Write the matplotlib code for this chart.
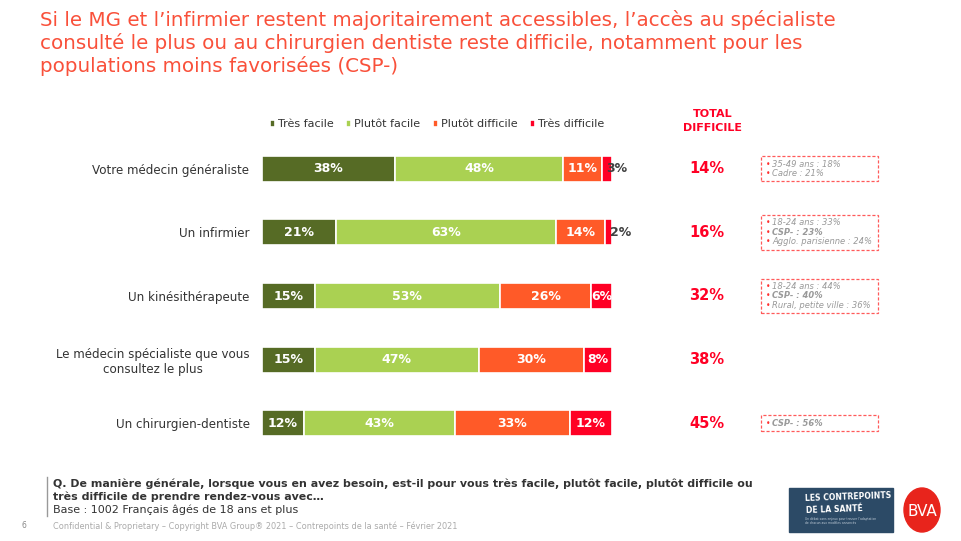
import matplotlib
matplotlib.use("Agg")
import matplotlib.pyplot as plt
from matplotlib.patches import Rectangle, Ellipse
import numpy as np

plt.rcParams['font.family'] = ['DejaVu Sans']

# données
categories = ["Votre médecin généraliste", "Un infirmier", "Un kinésithérapeute",
              "Le médecin spécialiste que vous\nconsultez le plus", "Un chirurgien-dentiste"]
tres_facile = [38, 21, 15, 15, 12]
plutot_facile = [48, 63, 53, 47, 43]
plutot_difficile = [11, 14, 26, 30, 33]
tres_difficile = [3, 2, 6, 8, 12]
series_names = ["Très facile", "Plutôt facile", "Plutôt difficile", "Très difficile"]
colors = ["#566B25", "#AAD152", "#FF5A28", "#FF0025"]

# détails par ligne (texte, gras)
details = [
    [("35-49 ans : 18%", False), ("Cadre : 21%", False)],
    [("18-24 ans : 33%", False), ("CSP- : 23%", True), ("Agglo. parisienne : 24%", False)],
    [("18-24 ans : 44%", False), ("CSP- : 40%", True), ("Rural, petite ville : 36%", False)],
    [],
    [("CSP- : 56%", True)],
]

title = ("Si le MG et l’infirmier restent majoritairement accessibles, l’accès au spécialiste\n"
         "consulté le plus ou au chirurgien dentiste reste difficile, notamment pour les\n"
         "populations moins favorisées (CSP-)")

W, H = 961, 541
fig = plt.figure(figsize=(9.61, 5.41), dpi=100)

def fx(px):
    return px / W

def fy(py):
    return 1 - py / H

fig.text(fx(40), fy(10), title, color="#F9503A", fontsize=14.3, va="top", ha="left",
         linespacing=1.2)

ax = fig.add_axes([fx(262), fy(455), fx(612) - fx(262), (455 - 137) / H])
data = [tres_facile, plutot_facile, plutot_difficile, tres_difficile]
y = np.arange(len(categories))
left = np.zeros(len(categories))
for vals, name, col in zip(data, series_names, colors):
    vals = np.array(vals)
    ax.barh(y, vals, left=left, height=0.41, color=col, edgecolor="white",
            linewidth=1.2, label=name)
    for yi, v, l in zip(y, vals, left):
        if v < 5:
            ax.text(l + 1.3, yi, f"{v}%", ha="left", va="center", color="#404040",
                    fontsize=9, fontweight="bold", clip_on=False)
        else:
            ax.text(l + v / 2, yi, f"{v}%", ha="center", va="center", color="white",
                    fontsize=9, fontweight="bold", clip_on=False)
    left = left + vals

ax.set_xlim(0, 100)
ax.set_ylim(4.5, -0.5)
ax.set_yticks(y)
ax.set_yticklabels(categories, fontsize=8.6, color="#333333", ha="right",
                   multialignment="center")
ax.tick_params(axis="y", length=0, pad=9)
ax.set_xticks([])
for s in ax.spines.values():
    s.set_visible(False)

leg = ax.legend(loc="lower center", bbox_to_anchor=(0.5, 1.01), ncol=4, frameon=False,
                fontsize=8, handlelength=0.5, handleheight=0.5, handletextpad=0.25,
                columnspacing=1.1, borderaxespad=0)
for t in leg.get_texts():
    t.set_color("#333333")

# colonne total difficile
total_difficile = [a + b for a, b in zip(plutot_difficile, tres_difficile)]
fig.text(fx(713), fy(114), "TOTAL", color="#FF0025", fontsize=8, fontweight="bold",
         ha="center", va="center")
fig.text(fx(713), fy(128), "DIFFICILE", color="#FF0025", fontsize=8, fontweight="bold",
         ha="center", va="center")
for yi, tot in zip(y, total_difficile):
    ax.text(127, yi, f"{tot}%", color="#FF0025", fontsize=10.5, fontweight="bold",
            ha="center", va="center", clip_on=False)

# encadrés détails
line_h = 9.5
for yi, rows in zip(y, details):
    if not rows:
        continue
    cy = 168.8 + yi * 63.6
    h = len(rows) * line_h + 6
    top = cy - h / 2
    fig.patches.append(Rectangle((fx(761), fy(top + h)), fx(878) - fx(761), h / H,
                                 transform=fig.transFigure, fill=False,
                                 edgecolor="#FF5A5A", linestyle=(0, (2.5, 1.5)),
                                 linewidth=0.9))
    for k, (txt, bold) in enumerate(rows):
        ty = top + 3 + line_h * (k + 0.5)
        fig.text(fx(766), fy(ty), "•", color="#FF3030", fontsize=5.5, ha="left",
                 va="center")
        fig.text(fx(772), fy(ty), txt, color="#999999", fontsize=6, ha="left",
                 va="center", style="italic", fontweight="bold" if bold else "normal")

# pied de page
fig.add_artist(plt.Line2D([fx(47), fx(47)], [fy(477), fy(516)], color="#999999",
                          linewidth=1, transform=fig.transFigure))
fig.text(fx(53), fy(484), "Q. De manière générale, lorsque vous en avez besoin, est-il pour vous très facile, plutôt facile, plutôt difficile ou",
         fontsize=7.9, fontweight="bold", color="#333333", va="center")
fig.text(fx(53), fy(497), "très difficile de prendre rendez-vous avec…",
         fontsize=7.9, fontweight="bold", color="#333333", va="center")
fig.text(fx(53), fy(510), "Base : 1002 Français âgés de 18 ans et plus",
         fontsize=8, color="#333333", va="center")
fig.text(fx(53), fy(526), "Confidential & Proprietary – Copyright BVA Group® 2021 – Contrepoints de la santé – Février 2021",
         fontsize=5.9, color="#AAAAAA", va="center")
fig.text(fx(21), fy(526), "6", fontsize=5.5, color="#888888", va="center")

# logos
fig.patches.append(Rectangle((fx(789), fy(532)), fx(893) - fx(789), 44 / H,
                             transform=fig.transFigure, color="#2C4A66"))
fig.text(fx(805), fy(503), "LES CONTREPOINTS\nDE LA SANTÉ", color="white", fontsize=5.6,
         fontweight="bold", va="center", ha="left", linespacing=1.3, rotation=2)
fig.text(fx(805), fy(521), "Un débat sans enjeux pour trouver l'adaptation\nde chacun aux modèles annoncés",
         color="#C0CCD8", fontsize=2.2, va="center", ha="left")
fig.patches.append(Ellipse((fx(922), fy(510)), 36 / W, 44 / H,
                           transform=fig.transFigure, color="#E8241C"))
fig.text(fx(922), fy(511), "BVA", color="white", fontsize=11, ha="center", va="center")

fig.savefig("out.png", dpi=100)
